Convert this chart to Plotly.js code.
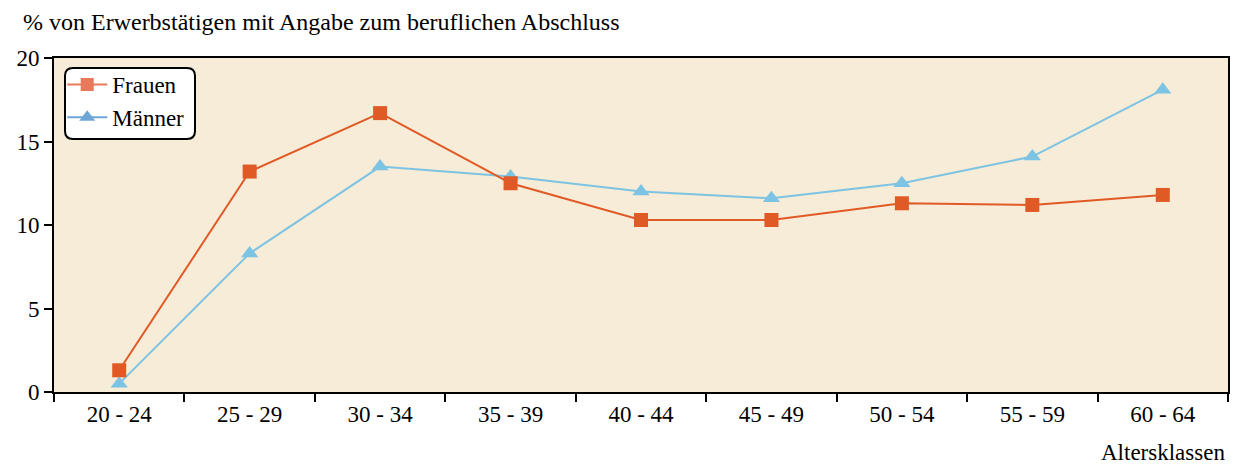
<!DOCTYPE html>
<html><head><meta charset="utf-8">
<script src="https://cdn.plot.ly/plotly-3.0.1.min.js"></script>
<style>body{margin:0;background:#fff}#c{width:1233px;height:464px}</style>
</head><body><div id="c"></div>
<script>
const categories = ['20 - 24','25 - 29','30 - 34','35 - 39','40 - 44','45 - 49','50 - 54','55 - 59','60 - 64'];
const frauen = [1.3, 13.2, 16.7, 12.5, 10.3, 10.3, 11.3, 11.2, 11.8];
const maenner = [0.5, 8.3, 13.5, 12.9, 12.0, 11.6, 12.5, 14.1, 18.1];
const yTicks = [0, 5, 10, 15, 20];

const F = 'Liberation Serif, Times New Roman, serif';
const traces = [
  {x: categories, y: maenner, type:'scatter', mode:'lines+markers', showlegend:false,
   line:{color:'#7DC3E3', width:2}, marker:{symbol:'triangle-up', size:15, color:'#7DC3E3'}},
  {x: categories, y: frauen, type:'scatter', mode:'lines+markers', showlegend:false,
   line:{color:'#E05A26', width:2}, marker:{symbol:'square', size:14, color:'#E05A26'}},
  {x:[null], y:[null], type:'scatter', mode:'lines+markers', name:'Frauen',
   line:{color:'#E8795A', width:2}, marker:{symbol:'square', size:13, color:'#E8795A'}},
  {x:[null], y:[null], type:'scatter', mode:'lines+markers', name:'Männer',
   line:{color:'#6FA6D8', width:2}, marker:{symbol:'triangle-up', size:14, color:'#6FA6D8'}}
];
const layout = {
  width:1233, height:464,
  margin:{l:54, r:5, t:58, b:72},
  paper_bgcolor:'#ffffff', plot_bgcolor:'#F7ECD7',
  font:{family:F, size:23, color:'#000'},
  showlegend:true,
  legend:{x:0.007, y:0.985, xanchor:'left', yanchor:'top', bgcolor:'rgba(0,0,0,0)', borderwidth:0,
          font:{family:F, size:23}, tracegroupgap:0, itemwidth:40, traceorder:'normal'},
  xaxis:{type:'category', tickson:'boundaries', ticks:'outside', ticklen:8, tickwidth:2, tickcolor:'#000',
         showline:true, linewidth:2, linecolor:'#000', mirror:true, showgrid:false, zeroline:false,
         tickfont:{family:F, size:23}, range:[-0.5, 8.5]},
  yaxis:{range:[0,20], tickvals:yTicks, ticktext:yTicks.map(String), ticks:'outside', ticklen:8, tickwidth:2,
         tickcolor:'#000', showline:true, linewidth:2, linecolor:'#000', mirror:true, showgrid:false,
         zeroline:false, tickfont:{family:F, size:23}, fixedrange:true},
  shapes:[{type:'path', xref:'paper', yref:'paper', layer:'below',
    path:'', fillcolor:'#fff', line:{color:'#000', width:2}}],
  annotations:[
    {text:'% von Erwerbstätigen mit Angabe zum beruflichen Abschluss', xref:'paper', yref:'paper',
     x:-0.028, y:1.108, xanchor:'left', yanchor:'middle', showarrow:false, font:{family:F, size:24}},
    {text:'Altersklassen', xref:'paper', yref:'paper', x:0.9995, y:-0.182, xanchor:'right', yanchor:'middle',
     showarrow:false, font:{family:F, size:23}}
  ]
};
// rounded legend box in pixel terms converted to paper coords
const pw = 1233-54-5, ph = 464-58-72;
function px(x){return ((x-54)/pw).toFixed(5);} function py(y){return ((464-72-y)/ph).toFixed(5);}
const L=65, R=195, T=68, B=139, r=8;
layout.shapes[0].path = `M ${px(L+r)},${py(T)} L ${px(R-r)},${py(T)} Q ${px(R)},${py(T)} ${px(R)},${py(T+r)} L ${px(R)},${py(B-r)} Q ${px(R)},${py(B)} ${px(R-r)},${py(B)} L ${px(L+r)},${py(B)} Q ${px(L)},${py(B)} ${px(L)},${py(B-r)} L ${px(L)},${py(T+r)} Q ${px(L)},${py(T)} ${px(L+r)},${py(T)} Z`;
Plotly.newPlot('c', traces, layout, {displayModeBar:false, staticPlot:true});
</script></body></html>
